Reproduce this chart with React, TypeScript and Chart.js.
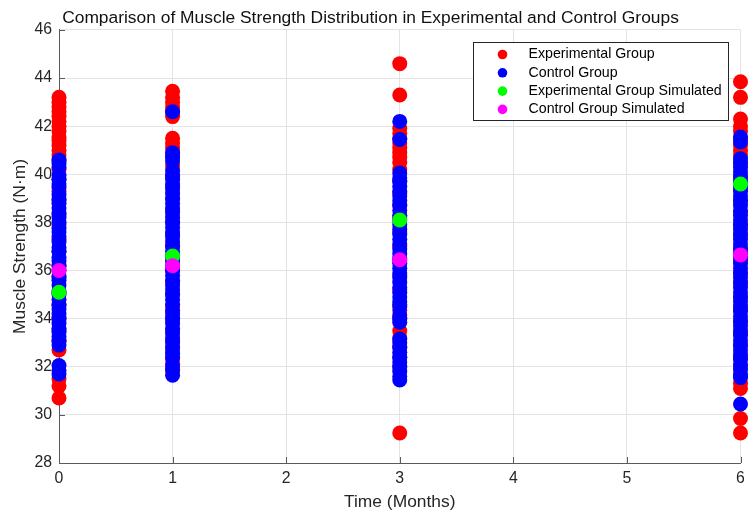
import React, { useEffect, useRef } from "react";
import { Chart, registerables } from "chart.js";

Chart.register(...registerables);

const chartTitle = "Comparison of Muscle Strength Distribution in Experimental and Control Groups";
const xAxisLabel = "Time (Months)";
const yAxisLabel = "Muscle Strength (N·m)";

const months = [0, 1, 3, 6];
const seriesNames = [
  "Experimental Group",
  "Control Group",
  "Experimental Group Simulated",
  "Control Group Simulated",
];
const seriesColors = ["#ff0000", "#0000ff", "#00ff00", "#ff00ff"];

// Experimental group measurements per time point
const expMonth0 = [43.2, 43.0, 42.8, 42.6, 42.4, 42.2, 42.0, 41.8, 41.55, 41.4, 41.2, 41.0, 40.8, 40.6, 40.2, 39.8, 39.3, 38.9, 38.4, 37.9, 37.3, 36.8, 36.2, 35.7, 35.1, 34.6, 34.0, 33.5, 33.1, 32.7, 31.5, 31.2, 30.7];
const expMonth1 = [43.45, 43.2, 43.0, 42.8, 42.6, 42.4, 41.5, 41.3, 41.1, 40.8, 40.35, 39.9, 39.5, 39.0, 38.5, 38.0, 37.5, 37.0, 36.5, 36.0, 35.5, 35.0, 34.5, 34.0, 33.5, 33.1, 32.7, 32.3, 32.0, 31.8];
const expMonth3 = [44.6, 43.3, 41.9, 41.7, 41.5, 41.3, 41.1, 40.9, 40.7, 40.5, 40.2, 39.7, 39.2, 38.7, 38.2, 37.6, 37.0, 36.4, 35.8, 35.2, 34.6, 34.35, 34.0, 33.5, 33.2, 32.8, 32.4, 32.0, 29.25];
const expMonth6 = [43.85, 43.2, 42.3, 42.0, 41.8, 41.5, 41.2, 41.0, 40.8, 40.4, 39.9, 39.4, 38.9, 38.4, 37.9, 37.4, 36.9, 36.4, 35.9, 35.4, 34.9, 34.4, 33.9, 33.4, 32.9, 32.4, 32.0, 31.6, 31.3, 31.1, 29.85, 29.25];

// Control group measurements per time point
const ctrlMonth0 = [40.6, 40.45, 40.3, 39.95, 39.8, 39.6, 39.45, 39.15, 38.95, 38.8, 38.6, 38.35, 38.2, 38.0, 37.75, 37.6, 37.4, 37.2, 36.95, 36.8, 36.55, 36.4, 36.2, 36.0, 35.75, 35.6, 35.4, 35.15, 35.0, 34.8, 34.55, 34.4, 34.2, 34.0, 33.8, 33.6, 33.45, 33.25, 33.05, 32.9, 32.05, 31.85, 31.7];
const ctrlMonth1 = [42.6, 40.9, 40.7, 40.55, 40.15, 39.95, 39.8, 39.6, 39.4, 39.2, 39.0, 38.8, 38.6, 38.4, 38.2, 38.0, 37.8, 37.6, 37.4, 37.2, 37.0, 36.8, 36.6, 36.4, 36.2, 36.0, 35.8, 35.6, 35.4, 35.2, 35.0, 34.8, 34.6, 34.35, 34.2, 34.0, 33.8, 33.6, 33.4, 33.2, 33.0, 32.8, 32.55, 32.4, 32.1, 31.9, 31.65];
const ctrlMonth3 = [42.2, 41.45, 40.05, 39.85, 39.7, 39.5, 39.3, 39.1, 38.9, 38.7, 38.5, 38.3, 38.1, 37.9, 37.7, 37.5, 37.3, 37.1, 36.9, 36.7, 36.5, 36.3, 36.1, 35.9, 35.7, 35.5, 35.3, 35.1, 34.9, 34.7, 34.5, 34.15, 34.0, 33.85, 33.15, 33.0, 32.8, 32.6, 32.4, 32.2, 32.0, 31.8, 31.6, 31.45];
const ctrlMonth6 = [41.55, 41.35, 40.65, 40.5, 40.3, 40.1, 39.9, 39.7, 39.5, 39.3, 39.1, 38.9, 38.7, 38.5, 38.3, 38.1, 37.9, 37.7, 37.5, 37.3, 37.1, 36.9, 36.7, 36.5, 36.3, 36.1, 35.9, 35.7, 35.5, 35.3, 35.1, 34.9, 34.7, 34.5, 34.3, 34.1, 33.9, 33.7, 33.5, 33.3, 33.1, 32.9, 32.7, 32.5, 32.3, 32.1, 31.9, 31.7, 31.55, 30.45];

// Simulated means per time point
const expSimulated = [35.1, 36.6, 38.1, 39.6];
const ctrlSimulated = [36.0, 36.2, 36.45, 36.65];

const expByMonth = [expMonth0, expMonth1, expMonth3, expMonth6];
const ctrlByMonth = [ctrlMonth0, ctrlMonth1, ctrlMonth3, ctrlMonth6];

const FONT = '"Liberation Sans", Arial, Helvetica, sans-serif';
const TEXT_COLOR = "#262626";
const AXIS_COLOR = "#5a5a5a";
const GRID_COLOR = "#e3e3e3";

function toPoints(groups: number[][]) {
  const pts: { x: number; y: number }[] = [];
  groups.forEach((vals, i) => vals.forEach((v) => pts.push({ x: months[i], y: v })));
  return pts;
}

const innerTicksPlugin = {
  id: "innerTicks",
  beforeDatasetsDraw(chart: any) {
    const { ctx, chartArea, scales } = chart;
    ctx.save();
    ctx.strokeStyle = AXIS_COLOR;
    ctx.lineWidth = 1;
    ctx.beginPath();
    scales.x.ticks.forEach((t: any) => {
      const px = Math.round(scales.x.getPixelForValue(t.value)) + 0.5;
      ctx.moveTo(px, chartArea.bottom);
      ctx.lineTo(px, chartArea.bottom - 6);
    });
    scales.y.ticks.forEach((t: any) => {
      const py = Math.round(scales.y.getPixelForValue(t.value)) + 0.5;
      ctx.moveTo(chartArea.left, py);
      ctx.lineTo(chartArea.left + 6, py);
    });
    ctx.stroke();
    ctx.restore();
  },
};

const boxLegendPlugin = {
  id: "boxLegend",
  afterDatasetsDraw(chart: any) {
    const { ctx, chartArea } = chart;
    const w = 255;
    const h = 78;
    const x0 = Math.round(chartArea.right - 13 - w) + 0.5;
    const y0 = Math.round(chartArea.top + 12) + 0.5;
    ctx.save();
    ctx.fillStyle = "#ffffff";
    ctx.fillRect(x0, y0, w, h);
    ctx.strokeStyle = TEXT_COLOR;
    ctx.lineWidth = 1;
    ctx.strokeRect(x0, y0, w, h);
    ctx.font = `14.2px ${FONT}`;
    ctx.textBaseline = "middle";
    ctx.textAlign = "left";
    seriesNames.forEach((name, i) => {
      const cy = y0 + 12 + i * 18.3;
      ctx.fillStyle = seriesColors[i];
      ctx.beginPath();
      ctx.arc(x0 + 29, cy, 4.8, 0, Math.PI * 2);
      ctx.fill();
      ctx.fillStyle = "#000000";
      ctx.fillText(name, x0 + 55, cy);
    });
    ctx.restore();
  },
};

export default function App() {
  const canvasRef = useRef<HTMLCanvasElement | null>(null);

  useEffect(() => {
    if (!canvasRef.current) return;
    const pointStyle = (i: number) => ({
      backgroundColor: seriesColors[i],
      borderColor: seriesColors[i],
      borderWidth: 0,
      pointRadius: 7.5,
      pointHoverRadius: 7.5,
      clip: false as any,
    });
    const chart = new Chart(canvasRef.current, {
      type: "scatter",
      data: {
        datasets: [
          { label: seriesNames[0], data: toPoints(expByMonth), order: 4, ...pointStyle(0) },
          { label: seriesNames[1], data: toPoints(ctrlByMonth), order: 3, ...pointStyle(1) },
          { label: seriesNames[2], data: expSimulated.map((v, i) => ({ x: months[i], y: v })), order: 2, ...pointStyle(2) },
          { label: seriesNames[3], data: ctrlSimulated.map((v, i) => ({ x: months[i], y: v })), order: 1, ...pointStyle(3) },
        ],
      },
      options: {
        animation: false,
        responsive: false,
        devicePixelRatio: 1,
        events: [],
        layout: { padding: { left: 0, right: 7, top: 0, bottom: 0 } },
        plugins: {
          legend: { display: false },
          tooltip: { enabled: false },
          title: {
            display: true,
            text: chartTitle,
            color: "#111111",
            font: { family: FONT, size: 17.4, weight: "normal" },
            padding: { top: 7.5, bottom: 1.6 },
          },
        },
        scales: {
          x: {
            type: "linear",
            min: 0,
            max: 6,
            afterFit: (s: any) => {
              s.height = 50;
              s.paddingLeft = 0;
              s.paddingRight = 0;
            },
            ticks: {
              stepSize: 1,
              color: TEXT_COLOR,
              font: { family: FONT, size: 15.8 },
              padding: 6,
            },
            grid: { color: GRID_COLOR, drawTicks: false },
            border: { color: AXIS_COLOR, width: 1 },
            title: {
              display: true,
              text: xAxisLabel,
              color: TEXT_COLOR,
              font: { family: FONT, size: 17.4 },
              padding: { top: 0, bottom: 0.5 },
            },
          },
          y: {
            type: "linear",
            min: 28,
            max: 46,
            afterFit: (s: any) => {
              s.width = 59;
              s.paddingTop = 0;
              s.paddingBottom = 0;
            },
            ticks: {
              stepSize: 2,
              color: TEXT_COLOR,
              font: { family: FONT, size: 15.8 },
              padding: 7,
            },
            grid: { color: GRID_COLOR, drawTicks: false },
            border: { color: AXIS_COLOR, width: 1 },
            title: {
              display: true,
              text: yAxisLabel,
              color: TEXT_COLOR,
              font: { family: FONT, size: 17.4 },
              padding: { top: 9.5, bottom: 0 },
            },
          },
        },
      },
      plugins: [innerTicksPlugin, boxLegendPlugin],
    } as any);
    return () => chart.destroy();
  }, []);

  return (
    <div style={{ position: "absolute", left: 0, top: 0, width: 748, height: 513, background: "#ffffff" }}>
      <canvas ref={canvasRef} width={748} height={513} style={{ display: "block" }} />
    </div>
  );
}
